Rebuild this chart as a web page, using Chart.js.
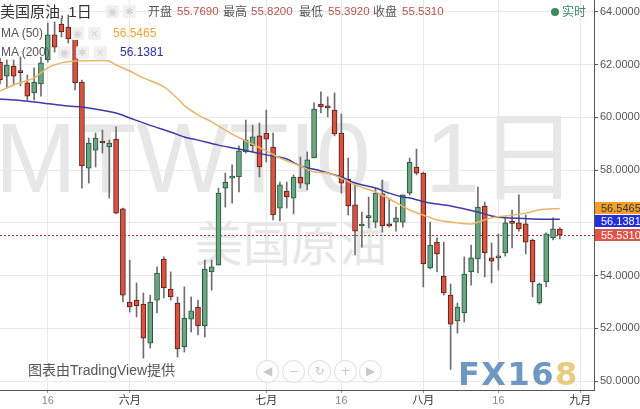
<!DOCTYPE html>
<html>
<head>
<meta charset="utf-8">
<script src="https://cdn.jsdelivr.net/npm/chart.js@4.4.1/dist/chart.umd.min.js"></script>
<style>
  html, body { margin: 0; padding: 0; background: #fff; }
  #wrap { position: relative; width: 640px; height: 409px; overflow: hidden;
          font-family: 'Liberation Sans', 'Noto Sans CJK SC', sans-serif; }
  #chart { position: absolute; left: 0; top: 0; z-index: 1; }
  .wm { position: absolute; white-space: nowrap; line-height: 1; color: #e7e7e7; z-index: 0; }
  .t { position: absolute; white-space: nowrap; line-height: 1; z-index: 2; }
  .lbl { color: #555; font-size: 12px; }
  .val { color: #b4554b; font-size: 11.5px; }
  .ico { position: absolute; width: 13px; height: 13px; border-radius: 2px; background: #f1f1f1;
         z-index: 2; color: #d4d4d4; font-size: 10px; line-height: 13px; text-align: center; font-family: 'DejaVu Sans'; }
  .nav { position: absolute; width: 21px; height: 21px; border-radius: 50%; border: 1.5px solid #dcdcdc;
         background: rgba(255,255,255,0.85); color: #c8c8c8; z-index: 2; text-align: center;
         line-height: 21px; font-size: 12px; font-family: 'DejaVu Sans'; }
</style>
</head>
<body>
<div id="wrap">
  <div class="wm" style="left:-5px; top:109px; font-size:98px;">MTWTI0, 1日</div>
  <div class="wm" style="left:195px; top:216px; font-size:48px; font-family:'Noto Sans CJK SC';">美国原油</div>

  <canvas id="chart" width="640" height="409"></canvas>

  <div class="t" style="left:0; top:4px; font-size:15px; color:#333;">美国原油, 1日</div>
  <div class="ico" style="left:106px; top:5px;">◉</div>
  <div class="ico" style="left:123px; top:5px;">✱</div>
  <div class="t lbl" style="left:148px; top:6px;">开盘</div>
  <div class="t val" style="left:177px; top:6px;">55.7690</div>
  <div class="t lbl" style="left:223px; top:6px;">最高</div>
  <div class="t val" style="left:251px; top:6px;">55.8200</div>
  <div class="t lbl" style="left:299px; top:6px;">最低</div>
  <div class="t val" style="left:328px; top:6px;">55.3920</div>
  <div class="t lbl" style="left:373px; top:6px;">收盘</div>
  <div class="t val" style="left:402px; top:6px;">55.5310</div>
  <div class="t" style="left:551px; top:8px; width:8px; height:8px; border-radius:50%; background:#3a8a5c;"></div>
  <div class="t" style="left:562px; top:6px; font-size:12px; color:#3a8a5c;">实时</div>

  <div class="t lbl" style="left:1px; top:27px;">MA (50)</div>
  <div class="ico" style="left:71px; top:27px;">◉</div>
  <div class="ico" style="left:88px; top:27px;">×</div>
  <div class="t" style="left:113px; top:27px; font-size:12px; color:#eca43a;">56.5465</div>
  <div class="t lbl" style="left:1px; top:46px;">MA (200)</div>
  <div class="ico" style="left:58px; top:46px;">◉</div>
  <div class="ico" style="left:76px; top:46px;">✱</div>
  <div class="ico" style="left:94px; top:46px;">×</div>
  <div class="t" style="left:120px; top:46px; font-size:12px; color:#2e2e9c;">56.1381</div>

  <div class="t" style="left:28px; top:363px; font-size:14px; color:#555;">图表由TradingView提供</div>
  <div class="nav" style="left:256px; top:360px;">◀</div>
  <div class="nav" style="left:282px; top:360px;">−</div>
  <div class="nav" style="left:308px; top:360px;">↻</div>
  <div class="nav" style="left:334px; top:360px;">+</div>
  <div class="nav" style="left:359px; top:360px;">▶</div>
  <div class="t" style="left:458px; top:358px; font-size:32px; font-weight:bold; letter-spacing:1.5px; font-family:'DejaVu Sans'; opacity:0.8;"><span style="color:#4a7db3;">FX16</span><span style="color:#e2c063;">8</span></div>
</div>

<script>
// trading days, May 7 .. Sep 5 (last candle is 08-29)
const dates = [
  '05-07', '05-08', '05-09', '05-10', '05-13', '05-14', '05-15', '05-16', '05-17', '05-20',
  '05-21', '05-22', '05-23', '05-24', '05-27', '05-28', '05-29', '05-30', '05-31', '06-03',
  '06-04', '06-05', '06-06', '06-07', '06-10', '06-11', '06-12', '06-13', '06-14', '06-17',
  '06-18', '06-19', '06-20', '06-21', '06-24', '06-25', '06-26', '06-27', '06-28', '07-01',
  '07-02', '07-03', '07-04', '07-05', '07-08', '07-09', '07-10', '07-11', '07-12', '07-15',
  '07-16', '07-17', '07-18', '07-19', '07-22', '07-23', '07-24', '07-25', '07-26', '07-29',
  '07-30', '07-31', '08-01', '08-02', '08-05', '08-06', '08-07', '08-08', '08-09', '08-12',
  '08-13', '08-14', '08-15', '08-16', '08-19', '08-20', '08-21', '08-22', '08-23', '08-26',
  '08-27', '08-28', '08-29', '08-30', '09-02', '09-03', '09-04', '09-05'
];

const opens = [
  62.10, 61.57, 61.95, 61.74, 61.31, 60.93, 61.27, 62.18, 63.13, 63.54,
  63.43, 62.98, 61.34, 58.08, 58.76, 59.09, 58.88, 59.18, 56.53, 53.00,
  53.07, 52.92, 51.44, 53.07, 54.63, 53.49, 52.96, 51.29, 52.35, 52.81,
  52.09, 54.14, 54.40, 57.32, 57.70, 57.74, 58.69, 58.92, 59.30, 59.41,
  58.88, 56.56, 57.21, 56.94, 57.74, 57.47, 58.46, 60.51, 60.40, 60.28,
  59.41, 57.66, 56.68, 55.88, 56.20, 56.03, 57.10, 55.96, 56.03, 56.03,
  57.13, 58.12, 57.89, 54.29, 55.27, 53.98, 53.26, 52.28, 52.58, 54.14,
  54.63, 56.64, 54.67, 54.67, 54.86, 56.00, 56.00, 55.96, 55.35, 52.96,
  53.76, 55.43, 55.769
];
const highs = [
  62.25, 62.18, 62.18, 62.30, 61.61, 61.88, 62.29, 63.58, 63.62, 63.77,
  63.89, 63.05, 61.42, 59.22, 59.41, 59.52, 59.14, 59.64, 56.56, 54.59,
  53.72, 53.34, 53.26, 54.33, 54.71, 54.14, 53.19, 53.57, 53.19, 53.07,
  54.59, 54.59, 57.32, 57.89, 58.20, 58.92, 59.90, 59.71, 59.79, 60.28,
  59.41, 57.55, 57.55, 57.82, 58.50, 58.69, 60.55, 60.97, 60.78, 60.93,
  60.13, 58.46, 57.44, 56.41, 56.98, 57.32, 57.63, 56.94, 56.60, 57.06,
  58.46, 58.80, 57.93, 56.03, 55.43, 55.27, 53.68, 52.96, 54.71, 55.16,
  57.36, 56.79, 55.24, 55.58, 56.22, 56.49, 57.06, 56.30, 55.39, 53.72,
  55.62, 56.19, 55.82
];
const lows = [
  61.27, 61.12, 61.23, 61.20, 60.66, 60.66, 60.81, 62.10, 62.48, 63.05,
  62.82, 61.04, 57.32, 57.51, 58.12, 58.65, 56.94, 56.35, 53.00, 52.62,
  52.43, 50.87, 51.25, 52.58, 53.15, 53.07, 50.91, 51.10, 51.86, 51.75,
  51.67, 53.45, 54.40, 56.60, 56.75, 57.17, 58.65, 58.69, 57.74, 58.31,
  56.11, 56.07, 56.56, 56.34, 57.32, 57.25, 58.46, 60.17, 60.02, 59.30,
  57.13, 56.30, 54.78, 55.08, 55.81, 55.81, 55.65, 55.84, 55.69, 55.84,
  57.06, 57.82, 53.57, 54.25, 54.14, 53.26, 50.44, 51.82, 52.24, 53.64,
  54.10, 53.95, 53.72, 54.21, 54.74, 55.05, 55.69, 54.82, 53.19, 52.92,
  53.57, 55.35, 55.392
];
const closes = [
  61.42, 61.99, 61.57, 61.70, 60.81, 61.34, 62.07, 63.13, 62.67, 63.24,
  62.98, 61.31, 58.16, 59.03, 59.22, 59.03, 59.03, 56.37, 53.26, 52.81,
  52.85, 51.63, 53.00, 54.10, 53.53, 53.19, 51.22, 52.39, 52.66, 52.09,
  54.25, 54.33, 57.13, 57.55, 57.74, 58.73, 59.14, 59.26, 58.12, 59.18,
  56.30, 57.44, 56.98, 57.74, 57.51, 58.39, 60.32, 60.40, 60.36, 59.37,
  57.51, 56.64, 55.69, 55.90, 56.24, 57.13, 55.88, 55.88, 56.19, 57.06,
  58.31, 57.89, 54.44, 55.16, 54.82, 53.34, 52.16, 52.81, 54.06, 54.67,
  56.60, 54.86, 54.55, 54.74, 56.00, 55.98, 55.77, 55.27, 53.76, 53.68,
  55.58, 55.77, 55.531
];

// moving averages: [date, value]
const ma50 = [
  ['05-07', 61.00], ['05-09', 61.23], ['05-14', 61.50], ['05-16', 61.88], ['05-20', 62.07],
  ['05-22', 62.14], ['05-28', 62.16], ['05-29', 62.14], ['05-30', 61.99], ['06-03', 61.76],
  ['06-05', 61.50], ['06-10', 61.16], ['06-12', 60.72], ['06-13', 60.45], ['06-17', 60.10],
  ['06-19', 59.83], ['06-24', 59.37], ['06-27', 58.99], ['07-01', 58.73], ['07-03', 58.46],
  ['07-08', 58.16], ['07-10', 57.93], ['07-12', 57.89], ['07-16', 57.70], ['07-18', 57.44],
  ['07-23', 57.17], ['07-26', 56.77], ['07-30', 56.49], ['08-01', 56.30], ['08-05', 56.11],
  ['08-08', 56.00], ['08-12', 55.96], ['08-13', 56.03], ['08-15', 56.19], ['08-19', 56.26],
  ['08-22', 56.37], ['08-26', 56.49], ['08-29', 56.5465]
];
const ma200 = [
  ['05-07', 60.70], ['05-14', 60.59], ['05-21', 60.43], ['05-23', 60.40], ['05-30', 60.17],
  ['06-03', 59.98], ['06-06', 59.70], ['06-11', 59.45], ['06-13', 59.26], ['06-17', 59.14],
  ['06-20', 58.95], ['06-25', 58.80], ['07-01', 58.58], ['07-04', 58.42], ['07-08', 58.16],
  ['07-11', 57.97], ['07-16', 57.74], ['07-18', 57.51], ['07-23', 57.32], ['07-25', 57.13],
  ['07-29', 56.98], ['07-30', 56.94], ['08-02', 56.75], ['08-07', 56.64], ['08-13', 56.41],
  ['08-15', 56.26], ['08-19', 56.19], ['08-23', 56.15], ['08-29', 56.1381]
];

const xTickDates = ['05-16', '06-03', '07-01', '07-16', '08-01', '08-16', '09-03'];
const xTickTexts = ['16', '六月', '七月', '16', '八月', '16', '九月'];
const yTicks = [50, 52, 54, 56, 58, 60, 62, 64];
const yMin = 49.66, yMax = 64.455;

const upFill = '#6ba583', upLine = '#225437';
const downFill = '#d75442', downLine = '#5b1a13';

const lastClose = closes[closes.length - 1];
const ma50Last = ma50[ma50.length - 1][1];
const ma200Last = ma200[ma200.length - 1][1];

const isUp = opens.map((o, i) => closes[i] >= o);
const bodies = opens.map((o, i) => [Math.min(o, closes[i]), Math.max(o, closes[i])]);
const wicks = lows.map((l, i) => [l, highs[i]]);

Chart.defaults.font.family = "'Liberation Sans', 'Noto Sans CJK SC', sans-serif";

const priceTags = {
  id: 'priceTags',
  beforeDatasetsDraw(chart) {
    const { ctx, chartArea, scales: { y } } = chart;
    const py = Math.round(y.getPixelForValue(lastClose)) + 0.5;
    ctx.save();
    ctx.strokeStyle = '#a8362c';
    ctx.lineWidth = 1;
    ctx.setLineDash([2, 2]);
    ctx.beginPath();
    ctx.moveTo(chartArea.left, py);
    ctx.lineTo(chartArea.right, py);
    ctx.stroke();
    ctx.restore();
  },
  afterDraw(chart) {
    const { ctx, chartArea, scales: { y } } = chart;
    const tags = [
      { value: ma50Last, bg: '#f5a02c', fg: '#333' },
      { value: ma200Last, bg: '#2330d8', fg: '#fff' },
      { value: lastClose, bg: '#df5448', fg: '#fff' }
    ];
    let prevBottom = -Infinity;
    ctx.save();
    ctx.font = "11px 'Liberation Sans'";
    ctx.textBaseline = 'middle';
    tags.forEach(t => {
      const top = Math.max(Math.round(y.getPixelForValue(t.value) - 6), prevBottom);
      ctx.fillStyle = t.bg;
      ctx.fillRect(chartArea.right + 1, top, chart.width - chartArea.right - 1, 12);
      ctx.fillStyle = t.fg;
      ctx.fillText(t.value.toFixed(4), chartArea.right + 7, top + 6.5);
      prevBottom = top + 13;
    });
    ctx.restore();
  }
};

new Chart(document.getElementById('chart').getContext('2d'), {
  type: 'bar',
  data: {
    labels: dates,
    datasets: [
      {
        type: 'line',
        label: 'MA (50)',
        data: ma50.map(([d, v]) => ({ x: d, y: v })),
        borderColor: '#e8b567',
        borderWidth: 1.5,
        pointRadius: 0,
        tension: 0.3,
        order: 0
      },
      {
        type: 'line',
        label: 'MA (200)',
        data: ma200.map(([d, v]) => ({ x: d, y: v })),
        borderColor: '#3b3ba6',
        borderWidth: 1.5,
        pointRadius: 0,
        tension: 0.3,
        order: 0
      },
      {
        label: 'body',
        data: bodies,
        backgroundColor: isUp.map(u => u ? upFill : downFill),
        borderColor: isUp.map(u => u ? upLine : downLine),
        borderWidth: 1,
        borderSkipped: false,
        barThickness: 5,
        minBarLength: 2,
        grouped: false,
        order: 1
      },
      {
        label: 'wick',
        data: wicks,
        backgroundColor: '#6e6e70',
        borderWidth: 0,
        barThickness: 1,
        grouped: false,
        order: 2
      }
    ]
  },
  options: {
    responsive: false,
    maintainAspectRatio: false,
    animation: false,
    layout: { padding: 0 },
    plugins: {
      legend: { display: false },
      tooltip: { enabled: false }
    },
    scales: {
      x: {
        offset: false,
        afterFit: (s) => { s.height = 19; s.paddingLeft = 0; s.paddingRight = 0; },
        ticks: {
          autoSkip: false,
          maxRotation: 0,
          padding: 1,
          font: { size: 11 },
          color: (c) => /月/.test(c.tick.label) ? '#333' : '#8a8a8a',
          callback: (v, i) => {
            const k = xTickDates.indexOf(dates[i]);
            return k >= 0 ? xTickTexts[k] : null;
          }
        },
        grid: { offset: false, color: '#e9e9e9', tickLength: 3, tickColor: '#999' },
        border: { color: '#555' }
      },
      y: {
        position: 'right',
        min: yMin,
        max: yMax,
        afterBuildTicks: (s) => { s.ticks = yTicks.map(v => ({ value: v })); },
        afterFit: (s) => { s.width = 46; s.paddingTop = 0; s.paddingBottom = 0; },
        ticks: {
          padding: 2,
          color: '#555',
          font: { size: 11 },
          callback: (v) => v.toFixed(4)
        },
        grid: { color: '#e9e9e9', tickLength: 4, tickColor: '#555' },
        border: { color: '#555' }
      }
    }
  },
  plugins: [priceTags]
});
</script>
</body>
</html>
